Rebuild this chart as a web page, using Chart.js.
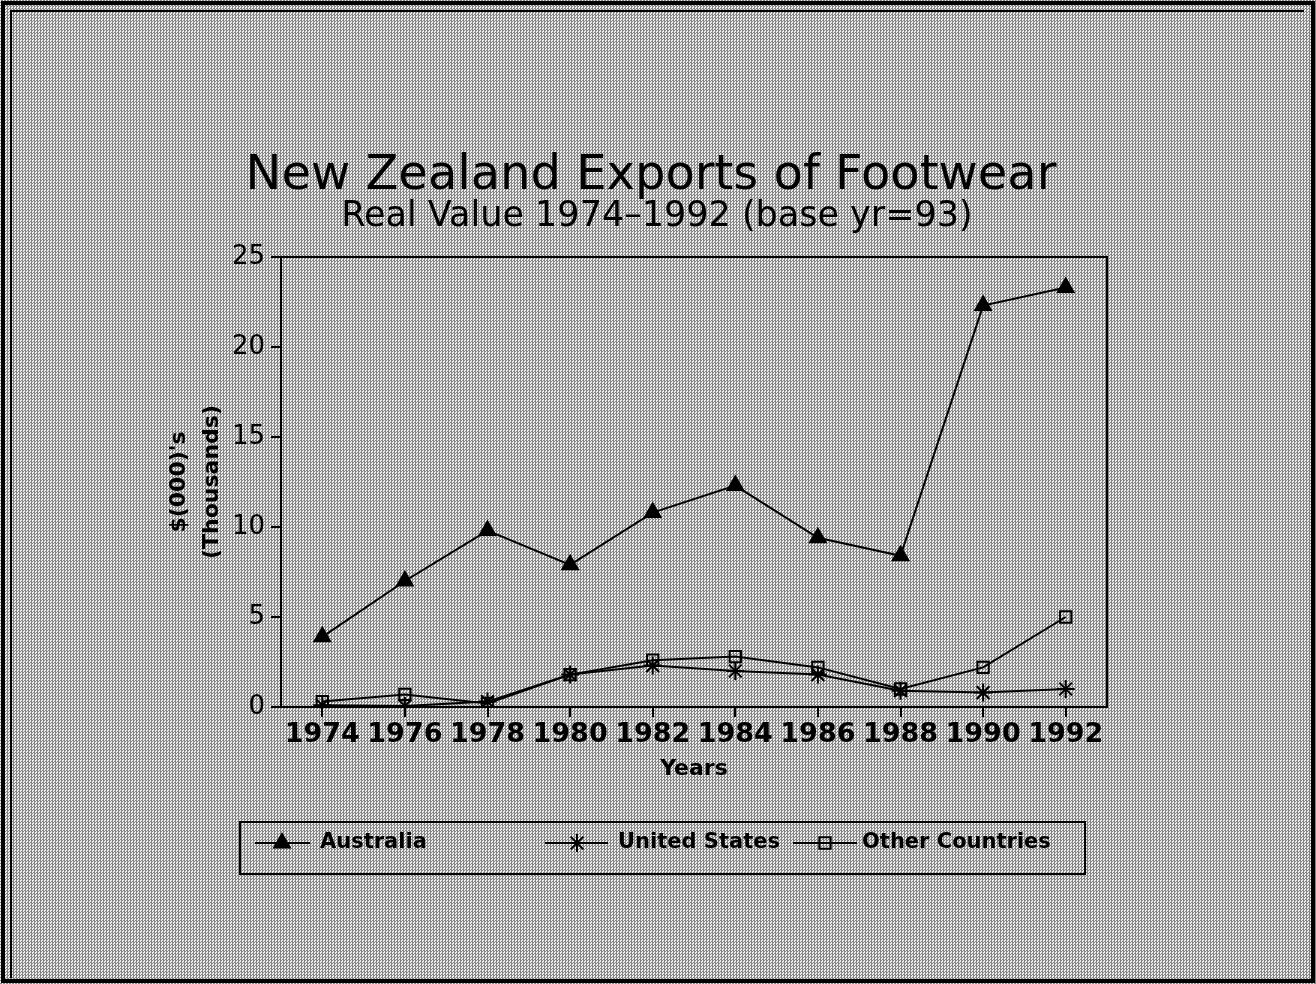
<!DOCTYPE html>
<html>
<head>
<meta charset="utf-8">
<script src="https://cdn.jsdelivr.net/npm/chart.js@4"></script>
<style>
html,body{margin:0;padding:0;width:1316px;height:984px;overflow:hidden;}
body{background-color:#d8d8d8;background-image:repeating-conic-gradient(#858585 0 25%, #ededed 0 50%);background-size:3px 3px;position:relative;}
#outer{position:absolute;left:1px;top:1px;width:1306px;height:974px;border:4px solid #000;}
#inner{position:absolute;left:10px;top:10px;width:1292px;height:966px;border:2px solid #000;border-bottom:none;border-right:none;}
#wrap{position:absolute;left:0;top:0;width:1316px;height:984px;}
</style>
</head>
<body>
<div id="outer"></div>
<div id="inner"></div>
<div id="wrap"><canvas id="c" width="1316" height="984"></canvas></div>
<script>
const years = ['1974','1976','1978','1980','1982','1984','1986','1988','1990','1992'];
const australia = [3.9, 7.0, 9.8, 7.9, 10.8, 12.3, 9.4, 8.4, 22.3, 23.3];
const unitedStates = [0.1, 0.05, 0.3, 1.8, 2.3, 2.0, 1.8, 0.9, 0.8, 1.0];
const otherCountries = [0.3, 0.7, 0.2, 1.8, 2.6, 2.8, 2.2, 1.0, 2.2, 5.0];
const yTicks = [0, 5, 10, 15, 20, 25];
const titleText = 'New Zealand Exports of Footwear';
const subtitleText = 'Real Value 1974\u20131992 (base yr=93)';
const yTitle = ["$(000)'s", '(Thousands)'];
const xTitle = 'Years';
const seriesNames = ['Australia', 'United States', 'Other Countries'];

const FONT = "'DejaVu Sans', sans-serif";

const framePlugin = {
  id: 'framePlugin',
  afterDraw(chart) {
    const ctx = chart.ctx;
    const a = chart.chartArea;
    ctx.save();
    ctx.strokeStyle = '#000';
    ctx.lineWidth = 2;
    ctx.strokeRect(a.left, a.top, a.right - a.left, a.bottom - a.top);
    // titles
    ctx.fillStyle = '#000';
    ctx.textAlign = 'center';
    ctx.textBaseline = 'alphabetic';
    ctx.font = '48px ' + FONT;
    ctx.fillText(titleText, 651, 189);
    ctx.font = '35px ' + FONT;
    ctx.fillText(subtitleText, 657, 226);
    // legend
    const lx = 240, ly = 822, lw = 845, lh = 52;
    ctx.lineWidth = 2;
    ctx.strokeRect(lx, ly, lw, lh);
    const items = [
      {x0: 255, x1: 310, mx: 282, tx: 320, ds: 0},
      {x0: 545, x1: 608, mx: 577, tx: 618, ds: 1},
      {x0: 793, x1: 857, mx: 825, tx: 862, ds: 2}
    ];
    const cy = ly + 21;
    items.forEach(it => {
      const ds = chart.data.datasets[it.ds];
      ctx.strokeStyle = '#000';
      ctx.lineWidth = 2;
      ctx.beginPath();
      ctx.moveTo(it.x0, cy); ctx.lineTo(it.x1, cy); ctx.stroke();
      ctx.fillStyle = ds.pointBackgroundColor;
      Chart.helpers.drawPoint(ctx, {
        pointStyle: ds.pointStyle, rotation: 0, radius: ds.pointRadius,
        borderWidth: ds.pointBorderWidth || 2
      }, it.mx, cy);
      ctx.fillStyle = '#000';
      ctx.font = 'bold 21px ' + FONT;
      ctx.textAlign = 'left';
      ctx.textBaseline = 'middle';
      ctx.fillText(seriesNames[it.ds], it.tx, cy);
    });
    ctx.restore();
  }
};

new Chart(document.getElementById('c'), {
  type: 'line',
  data: {
    labels: years,
    datasets: [
      {label: seriesNames[0], data: australia, borderColor: '#000', borderWidth: 2,
       pointStyle: 'triangle', pointRadius: 9, pointBorderWidth: 2, backgroundColor: '#000', pointBackgroundColor: '#000', pointBorderColor: '#000', tension: 0},
      {label: seriesNames[1], data: unitedStates, borderColor: '#000', borderWidth: 2,
       pointStyle: 'star', pointRadius: 9, pointBorderWidth: 2, pointBackgroundColor: 'rgba(0,0,0,0)', pointBorderColor: '#000', tension: 0},
      {label: seriesNames[2], data: otherCountries, borderColor: '#000', borderWidth: 2,
       pointStyle: 'rect', pointRadius: 8, pointBorderWidth: 2, pointBackgroundColor: 'rgba(0,0,0,0)', pointBorderColor: '#000', tension: 0}
    ]
  },
  options: {
    responsive: false,
    animation: false,
    devicePixelRatio: 1,
    layout: {padding: {left: 150, right: 209, top: 257, bottom: 202}},
    plugins: {legend: {display: false}, title: {display: false}, tooltip: {enabled: false}},
    scales: {
      x: {
        type: 'category',
        offset: true,
        afterFit(s) { s.height = 75; },
        grid: {display: true, drawOnChartArea: false, drawTicks: true, tickLength: 10, color: '#000', lineWidth: 2, offset: false},
        border: {display: true, color: '#000', width: 2},
        ticks: {color: '#000', font: {family: FONT, size: 27, weight: 'bold'}, padding: 2, maxRotation: 0, autoSkip: false},
        title: {display: true, text: xTitle, color: '#000', font: {family: FONT, size: 22, weight: 'bold'}, padding: {top: 0, bottom: 0}}
      },
      y: {
        min: 0, max: 25,
        afterFit(s) { s.width = 131; },
        afterBuildTicks(s) { s.ticks = yTicks.map(v => ({value: v})); },
        grid: {display: true, drawOnChartArea: false, drawTicks: true, tickLength: 10, color: '#000', lineWidth: 2},
        border: {display: true, color: '#000', width: 2},
        ticks: {color: '#000', font: {family: FONT, size: 26}, padding: 6},
        title: {display: true, text: yTitle, color: '#000', font: {family: FONT, size: 22, weight: 'bold', lineHeight: 1.5}, padding: {top: 13, bottom: 0}}
      }
    }
  },
  plugins: [framePlugin]
});
</script>
</body>
</html>
